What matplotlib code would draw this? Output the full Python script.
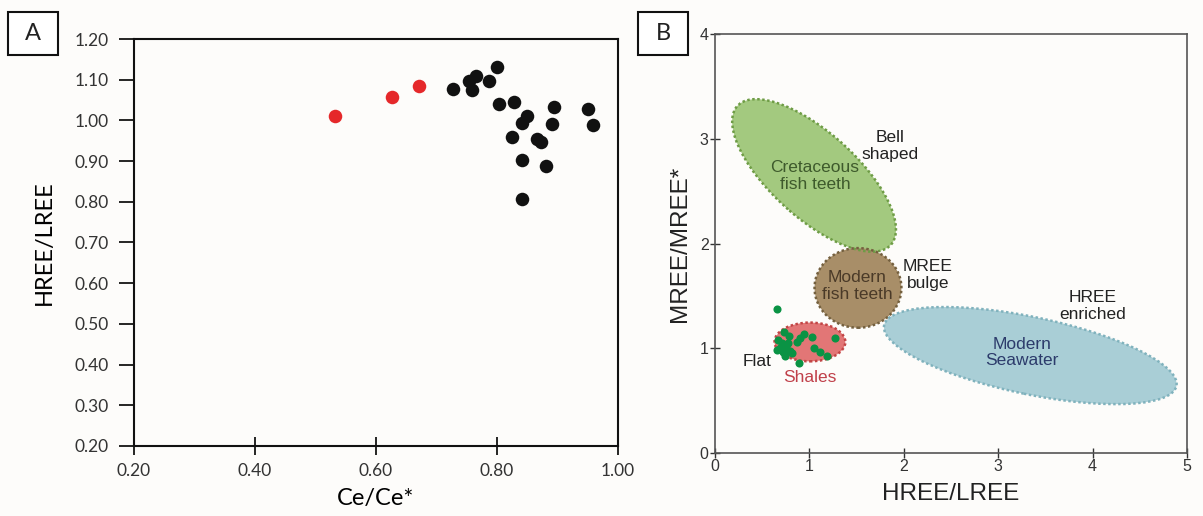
import matplotlib
matplotlib.use("Agg")
import matplotlib.pyplot as plt
from matplotlib.patches import Ellipse, Rectangle

# Panel A: Ce/Ce* vs HREE/LREE
ce_red = [0.532, 0.626, 0.671]
hl_red = [1.011, 1.057, 1.085]

ce_black = [0.728, 0.754, 0.766, 0.759, 0.800, 0.786, 0.803, 0.828, 0.849, 0.842,
            0.894, 0.891, 0.951, 0.958, 0.825, 0.866, 0.873, 0.841, 0.881, 0.841]
hl_black = [1.077, 1.097, 1.109, 1.075, 1.132, 1.098, 1.040, 1.044, 1.012, 0.994,
            1.032, 0.992, 1.029, 0.989, 0.958, 0.954, 0.946, 0.903, 0.889, 0.807]

a_xticks = [0.20, 0.40, 0.60, 0.80, 1.00]
a_yticks = [0.20, 0.30, 0.40, 0.50, 0.60, 0.70, 0.80, 0.90, 1.00, 1.10, 1.20]

# Panel B: HREE/LREE vs MREE/MREE*
hl_green = [0.653, 0.731, 0.787, 0.671, 0.706, 0.689, 0.752, 0.660, 0.724, 0.794, 0.742,
            0.812, 0.865, 0.943, 1.024, 0.900, 1.271, 1.049, 1.112, 1.190, 0.887, 0.777]
mm_green = [1.372, 1.159, 1.117, 1.079, 1.048, 1.000, 1.015, 0.984, 0.968, 0.974, 0.926,
            0.952, 1.063, 1.137, 1.105, 1.096, 1.101, 1.000, 0.968, 0.926, 0.857, 1.048]

# fields: name, center, width, height, angle, fill, edge
fields = [
    ("cretaceous", (1.05, 2.65), 2.1, 0.85, -38, "#a3c97f", "#6e9c45"),
    ("modern_teeth", (1.515, 1.576), 0.92, 0.76, 0, "#a88e68", "#74603f"),
    ("seawater", (3.34, 0.93), 3.15, 0.74, -10.5, "#a9ced6", "#80b2bd"),
    ("shales", (1.006, 1.06), 0.75, 0.37, 0, "#e27676", "#c24545"),
]

# labels: text, x, y, colour
b_labels = [
    ("Bell\nshaped", 1.854, 2.93, "#222222"),
    ("Cretaceous\nfish teeth", 1.06, 2.645, "#3e5a2c"),
    ("Modern\nfish teeth", 1.504, 1.595, "#4a3a28"),
    ("MREE\nbulge", 2.256, 1.70, "#222222"),
    ("HREE\nenriched", 4.0, 1.40, "#222222"),
    ("Modern\nSeawater", 3.25, 0.96, "#2c3b6b"),
    ("Flat", 0.445, 0.87, "#222222"),
    ("Shales", 1.006, 0.716, "#c0404a"),
]

BG = "#fdfcfa"
fig = plt.figure(figsize=(12.03, 5.16), dpi=100, facecolor=BG)

# ---- panel A ----
axA = fig.add_axes([0.1114, 0.1357, 0.4023, 0.7887], facecolor=BG)
axA.scatter(ce_black, hl_black, s=95, color="#111111", zorder=3, linewidths=0)
axA.scatter(ce_red, hl_red, s=95, color="#e5282a", zorder=3, linewidths=0)
axA.set_xlim(0.2, 1.0)
axA.set_ylim(0.2, 1.2)
axA.set_xticks(a_xticks)
axA.set_yticks(a_yticks)
axA.set_xticklabels([f"{v:.2f}" for v in a_xticks], family="Lato", fontsize=12.5, color="#333333")
axA.set_yticklabels([f"{v:.2f}" for v in a_yticks], family="Lato", fontsize=12.5, color="#333333")
axA.tick_params(axis="x", direction="inout", length=13, width=1.2, pad=6)
axA.tick_params(axis="y", direction="out", length=11, width=1.2, pad=7)
for sp in axA.spines.values():
    sp.set_linewidth(1.5)
    sp.set_color("#111111")
axA.set_xlabel("Ce/Ce*", family="Lato", fontsize=17, labelpad=6)
axA.set_ylabel("HREE/LREE", family="Lato", fontsize=17, labelpad=14)

# ---- panel B ----
axB = fig.add_axes([0.5943, 0.1221, 0.3924, 0.812], facecolor=BG)
for name, c, w, h, ang, fc, ec in fields:
    axB.add_patch(Ellipse(c, w, h, angle=ang, facecolor=fc, edgecolor="none", zorder=1))
    axB.add_patch(Ellipse(c, w, h, angle=ang, facecolor="none", edgecolor=ec,
                          linestyle=(0, (1, 1)), linewidth=1.8, zorder=2))
axB.scatter(hl_green, mm_green, s=34, color="#0a9344", zorder=4, linewidths=0)
for txt, x, y, col in b_labels:
    axB.text(x, y, txt, ha="center", va="center", color=col, fontsize=12.5,
             family="Liberation Sans", linespacing=1.15, zorder=5)
axB.set_xlim(0, 5)
axB.set_ylim(0, 4)
axB.set_xticks([0, 1, 2, 3, 4, 5])
axB.set_yticks([0, 1, 2, 3, 4])
axB.tick_params(direction="inout", length=7, width=1.0, labelsize=11.5, pad=1,
                colors="#333333")
for lab in axB.get_xticklabels() + axB.get_yticklabels():
    lab.set_family("Liberation Sans")
for sp in axB.spines.values():
    sp.set_linewidth(1.2)
    sp.set_color("#555555")
axB.set_xlabel("HREE/LREE", family="Liberation Sans", fontsize=17.5, labelpad=6, color="#222222")
axB.set_ylabel("MREE/MREE*", family="Liberation Sans", fontsize=17.5, labelpad=6, color="#222222")

# panel letters in boxes
for letter, x0 in [("A", 8), ("B", 638)]:
    fig.patches.append(Rectangle((x0 / 1203, 1 - 55 / 516), 50 / 1203, 43 / 516,
                                 transform=fig.transFigure, facecolor="white",
                                 edgecolor="#111111", linewidth=1.5))
    fig.text((x0 + 25) / 1203, 1 - 33.5 / 516, letter, ha="center", va="center",
             fontsize=17, family="Lato", color="#222222")

fig.savefig("out.png", dpi=100, facecolor=BG)
